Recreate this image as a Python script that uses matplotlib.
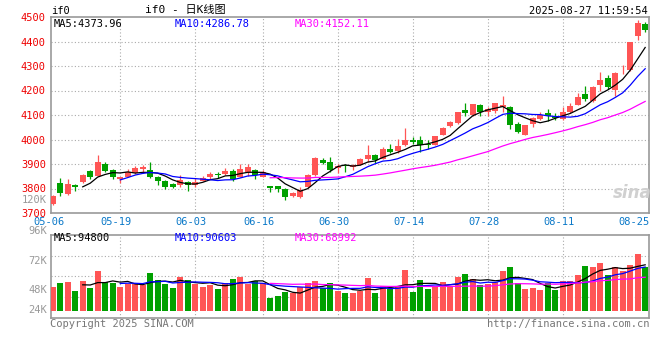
import matplotlib
matplotlib.use("Agg")
import matplotlib.pyplot as plt
import numpy as np

plt.rcParams['font.family'] = ['DejaVu Sans Mono', 'Noto Sans CJK SC']

#-----------------------------------
# data
#-----------------------------------
opens = [3735, 3822, 3778, 3814, 3828, 3871, 3852, 3899, 3875, 3838,
         3848, 3864, 3878, 3875, 3848, 3832, 3818, 3814, 3828, 3814,
         3832, 3845, 3859, 3859, 3872, 3848, 3868, 3875, 3848, 3809,
         3810, 3798, 3771, 3764, 3805, 3856, 3915, 3910, 3883, 3895,
         3888, 3897, 3919, 3935, 3922, 3962, 3953, 3976, 3996, 3996,
         3982, 3978, 4020, 4057, 4066, 4120, 4100, 4141, 4111, 4115,
         4132, 4131, 4065, 4019, 4065, 4084, 4108, 4097, 4084, 4112,
         4142, 4185, 4158, 4222, 4249, 4202, 4283, 4283, 4423, 4472]
highs = [3773, 3841, 3838, 3818, 3859, 3875, 3935, 3907, 3880, 3848,
         3879, 3890, 3896, 3908, 3852, 3834, 3822, 3855, 3832, 3841,
         3852, 3868, 3869, 3883, 3879, 3902, 3899, 3879, 3874, 3811,
         3811, 3802, 3785, 3808, 3861, 3929, 3926, 3930, 3899, 3897,
         3900, 3926, 3978, 3942, 3969, 3982, 4003, 4047, 4012, 4014,
         3996, 4016, 4050, 4074, 4114, 4149, 4145, 4145, 4131, 4150,
         4178, 4135, 4070, 4060, 4092, 4112, 4124, 4108, 4131, 4148,
         4189, 4218, 4218, 4276, 4265, 4276, 4303, 4398, 4487, 4481]
lows = [3733, 3771, 3775, 3791, 3822, 3840, 3849, 3867, 3840, 3821,
        3845, 3861, 3864, 3842, 3816, 3798, 3801, 3805, 3791, 3805,
        3829, 3838, 3841, 3855, 3829, 3845, 3852, 3838, 3845, 3784,
        3784, 3755, 3767, 3761, 3802, 3852, 3899, 3869, 3865, 3868,
        3874, 3895, 3908, 3905, 3919, 3946, 3946, 3973, 3982, 3951,
        3962, 3976, 4019, 4053, 4064, 4097, 4097, 4097, 4097, 4110,
        4112, 4041, 4025, 4019, 4052, 4081, 4074, 4081, 4081, 4108,
        4139, 4159, 4155, 4199, 4206, 4179, 4269, 4280, 4407, 4437]
closes = [3771, 3782, 3818, 3808, 3855, 3845, 3907, 3872, 3845, 3848,
          3867, 3883, 3886, 3845, 3832, 3808, 3805, 3834, 3816, 3828,
          3843, 3859, 3855, 3872, 3838, 3879, 3886, 3857, 3869, 3802,
          3800, 3767, 3781, 3794, 3855, 3923, 3903, 3875, 3891, 3891,
          3897, 3922, 3938, 3915, 3962, 3951, 3973, 3996, 3989, 3978,
          3976, 4014, 4046, 4070, 4114, 4108, 4145, 4114, 4124, 4148,
          4142, 4061, 4032, 4060, 4088, 4101, 4095, 4088, 4112, 4135,
          4175, 4166, 4213, 4242, 4215, 4273, 4285, 4398, 4474, 4448]
# volume in thousand lots
volumes = [49.9, 58.2, 60.3, 41.6, 62.4, 47.8, 83.2, 60.3, 58.9, 49.9,
           55.4, 56.8, 53.4, 79.0, 64.4, 56.8, 47.8, 70.7, 64.4, 55.4,
           49.9, 53.4, 45.7, 58.2, 66.5, 70.7, 55.4, 62.4, 58.2, 27.0,
           31.9, 40.2, 37.4, 49.9, 58.2, 62.4, 47.8, 58.2, 41.6, 37.4,
           37.4, 40.9, 68.6, 37.4, 52.0, 45.0, 52.0, 85.2, 39.5, 64.4,
           46.4, 51.3, 60.3, 51.3, 70.7, 76.9, 66.5, 54.1, 56.8, 60.3,
           83.2, 91.5, 58.2, 45.7, 47.8, 43.7, 58.2, 43.7, 62.4, 62.4,
           74.8, 93.6, 91.5, 99.8, 74.8, 91.5, 83.2, 95.6, 118.5, 91.5]

date_labels = ['05-06', '05-19', '06-03', '06-16', '06-30', '07-14', '07-28', '08-11', '08-25']
date_idx = [0, 9, 19, 28, 38, 48, 58, 68, 78]
price_ticks = [3700, 3800, 3900, 4000, 4100, 4200, 4300, 4400, 4500]
vol_labels = ['96K', '72K', '48K', '24K']
vol_label_y = [231, 261, 290, 310]   # pixel rows of the labels

ma_periods = [5, 10, 30]
ma_colors = ['black', '#0000ff', '#ff00ff']
price_ma_text = ['MA5:4373.96', 'MA10:4286.78', 'MA30:4152.11']
vol_ma_text = ['MA5:94800', 'MA10:90603', 'MA30:68992']

red = '#ff5555'
green = '#00a000'
grid_kw = dict(color='#aaaaaa', linestyle=(0, (1, 2)), linewidth=0.8)
W, H = 660, 360


def moving_avg(vals, n):
    vals = np.asarray(vals, dtype=float)
    out = np.full(len(vals), np.nan)
    c = np.cumsum(np.insert(vals, 0, 0))
    out[n - 1:] = (c[n:] - c[:-n]) / n
    return out


def px(x, y):
    return x / W, 1 - y / H


x = np.arange(len(closes))
up = np.array(closes) >= np.array(opens)
colors = [red if u else green for u in up]

fig = plt.figure(figsize=(6.6, 3.6), dpi=100)
ax1 = fig.add_axes([50.7 / W, 1 - 213 / H, 598.6 / W, 196 / H])
ax2 = fig.add_axes([50.7 / W, 1 - 317.7 / H, 598.6 / W, 82.7 / H])

# candles
body_bottom = np.minimum(opens, closes)
body_height = np.maximum(np.abs(np.array(closes) - np.array(opens)), 1.5)
ax1.vlines(x, lows, highs, colors=colors, linewidth=0.9, zorder=3)
ax1.bar(x, body_height, bottom=body_bottom, width=0.76, color=colors, zorder=4)
for n, col in zip(ma_periods, ma_colors):
    ax1.plot(x, moving_avg(closes, n), color=col, linewidth=0.9, zorder=5)

ax1.set_xlim(-0.27, 79.55)
ax1.set_ylim(3700, 4500)
ax1.set_yticks(price_ticks)
ax1.set_yticklabels([str(p) for p in price_ticks], color='#ee0000', fontsize=7.5)
ax1.tick_params(axis='y', length=0, pad=3.5)
ax1.set_xticks([])
for p in price_ticks[1:-1]:
    ax1.axhline(p, zorder=1, **grid_kw)

# volume
ax2.bar(x, volumes, width=0.8, color=colors, zorder=3)
for n, col in zip(ma_periods, ma_colors):
    ax2.plot(x, moving_avg(volumes, n), color=col, linewidth=0.9, zorder=5)
ax2.set_xlim(-0.27, 79.55)
ax2.set_ylim(-13.9, 158)
ax2.set_xticks([])
ax2.set_yticks([])
for f in [0.25, 0.5, 0.75]:
    ax2.axhline(-13.9 + f * (158 + 13.9), zorder=1, **grid_kw)

for ax in (ax1, ax2):
    for i in date_idx[1:-1]:
        ax.axvline(i, zorder=1, **grid_kw)
    for s in ax.spines.values():
        s.set_color('#999999')
        s.set_linewidth(1.2)

# date labels between the panels
for i, lab in zip(date_idx[:-1], date_labels[:-1]):
    ax1.text(i - 0.5, -0.046, lab, transform=ax1.get_xaxis_transform(),
             ha='center', va='center', color='#0a78c8', fontsize=7.5)
ax1.text(1.0, -0.046, date_labels[-1], transform=ax1.transAxes,
         ha='right', va='center', color='#0a78c8', fontsize=7.5)

# volume axis labels
for lab, yy in zip(vol_labels, vol_label_y):
    fig.text(*px(47, yy), lab, ha='right', va='center', color='#999999', fontsize=7.5)
fig.text(*px(47, 200), '120K', ha='right', va='center', color='#999999', fontsize=7.5)

# MA legends
for t, col, xx in zip(price_ma_text, ma_colors, [54, 175, 295]):
    fig.text(*px(xx, 24), t, ha='left', va='center', color=col, fontsize=7.5)
for t, col, xx in zip(vol_ma_text, ma_colors, [54, 175, 295]):
    fig.text(*px(xx, 238), t, ha='left', va='center', color=col, fontsize=7.5)

# header / footer
fig.text(*px(51, 11), 'if0', ha='left', va='center', color='black', fontsize=7.5)
fig.text(*px(185, 10), 'if0 - 日K线图', ha='center', va='center', color='black', fontsize=8)
fig.text(*px(648, 11), '2025-08-27 11:59:54', ha='right', va='center', color='black', fontsize=7.5)
fig.text(*px(50, 324), 'Copyright 2025 SINA.COM', ha='left', va='center', color='#777777', fontsize=7.5)
fig.text(*px(650, 324), 'http://finance.sina.com.cn', ha='right', va='center', color='#777777', fontsize=7.5)
fig.text(*px(632, 193), 'sina', ha='center', va='center', color='#d0d0d0',
         fontsize=12, style='italic', weight='bold', family='DejaVu Sans')

fig.savefig('out.png', dpi=100, facecolor='white')
